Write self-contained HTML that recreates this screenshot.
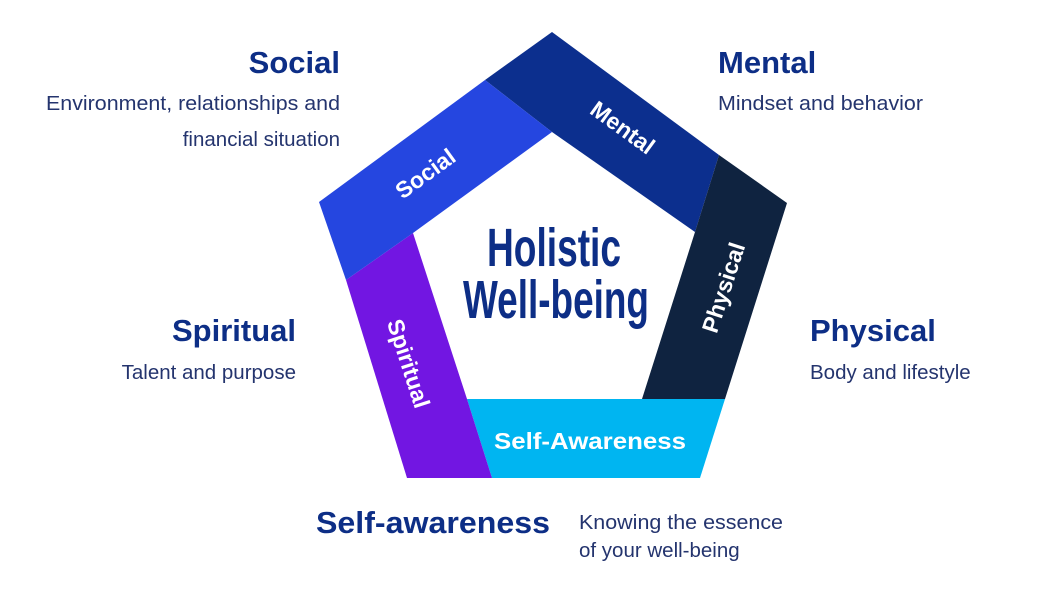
<!DOCTYPE html>
<html><head><meta charset="utf-8"><style>
html,body{margin:0;padding:0;background:#fff;width:1060px;height:597px;overflow:hidden}
svg{display:block}
.h{font-family:"Liberation Sans",sans-serif;font-weight:bold;font-size:31px;fill:#0d2e86}
.s{font-family:"Liberation Sans",sans-serif;font-size:20.5px;fill:#24346e}
.b{font-family:"Liberation Sans",sans-serif;font-weight:bold;font-size:23px;fill:#fff}
.c{font-family:"Liberation Sans Narrow","Liberation Sans",sans-serif;font-weight:bold;font-size:54px;fill:#0d2e86}
</style></head><body>
<svg width="1060" height="597" viewBox="0 0 1060 597">
<polygon points="485,80 552,32 719,155 695,232 552,132" fill="#0c2f8e"/>
<polygon points="719,155 787,203 725,399 642,399 695,232" fill="#0f2340"/>
<polygon points="642,399 725,399 700,478 492,478 467,399" fill="#00b5f1"/>
<polygon points="346,280 413,233 467,399 492,478 407,478" fill="#7216e2"/>
<polygon points="319,202 485,80 552,132 413,233 346,280" fill="#2546e0"/>

<text class="b" transform="translate(618,134) rotate(36)" text-anchor="middle">Mental</text>
<text class="b" transform="translate(430,180) rotate(-36)" text-anchor="middle">Social</text>
<text class="b" transform="translate(731,290) rotate(-72)" text-anchor="middle">Physical</text>
<text class="b" transform="translate(401,366) rotate(72)" text-anchor="middle">Spiritual</text>
<text class="b" x="590" y="449" text-anchor="middle" textLength="192" lengthAdjust="spacingAndGlyphs">Self-Awareness</text>

<text class="c" x="554" y="266" text-anchor="middle" textLength="134" lengthAdjust="spacingAndGlyphs">Holistic</text>
<text class="c" x="556" y="318" text-anchor="middle" textLength="186" lengthAdjust="spacingAndGlyphs">Well-being</text>

<text class="h" x="340" y="73" text-anchor="end">Social</text>
<text class="s" x="340" y="110" text-anchor="end" textLength="294" lengthAdjust="spacingAndGlyphs">Environment, relationships and</text>
<text class="s" x="340" y="146" text-anchor="end">financial situation</text>

<text class="h" x="718" y="73">Mental</text>
<text class="s" x="718" y="110" textLength="205" lengthAdjust="spacingAndGlyphs">Mindset and behavior</text>

<text class="h" x="296" y="341" text-anchor="end">Spiritual</text>
<text class="s" x="296" y="379" text-anchor="end">Talent and purpose</text>

<text class="h" x="810" y="341">Physical</text>
<text class="s" x="810" y="379">Body and lifestyle</text>

<text class="h" x="316" y="533" textLength="234" lengthAdjust="spacingAndGlyphs">Self-awareness</text>
<text class="s" x="579" y="529" textLength="204" lengthAdjust="spacingAndGlyphs">Knowing the essence</text>
<text class="s" x="579" y="557">of your well-being</text>
</svg>
</body></html>
